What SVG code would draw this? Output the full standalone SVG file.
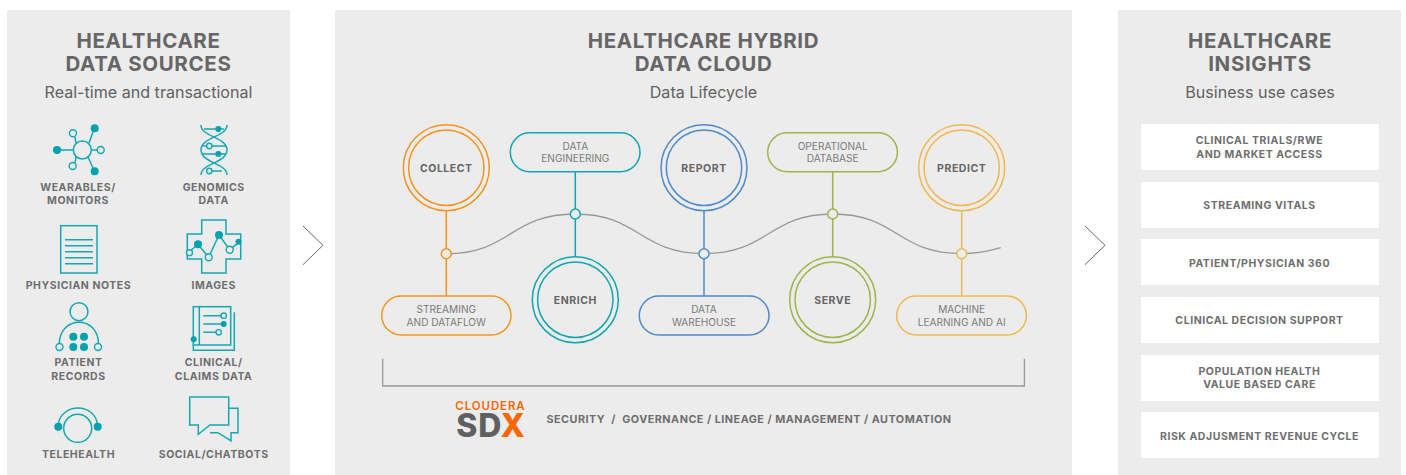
<svg xmlns="http://www.w3.org/2000/svg" width="1406" height="475" viewBox="0 0 1406 475">
<style>
text{font-family:Inter,"Liberation Sans",sans-serif;text-anchor:middle}
.panel{fill:#ececec}
.title{font-size:20.5px;font-weight:700;fill:#666;letter-spacing:.65px}
.sub{font-size:16.1px;fill:#616161}
.lab{font-size:10.5px;font-weight:700;fill:#6e6e6e;letter-spacing:.55px}
.cir{font-size:10.5px;font-weight:700;fill:#666;letter-spacing:.55px}
.pl{font-size:10.1px;fill:#7b7b7b}
.i{fill:none;stroke:#14a8b2;stroke-width:1.5}
.o{fill:#ececec;stroke:#14a8b2;stroke-width:1.4}
.f{fill:#00a3ad}
.box{fill:#fff}
.chev{fill:none;stroke:#666;stroke-width:1}
.n{fill:#ececec;stroke-width:1.5}
.wave{fill:none;stroke:#999;stroke-width:1.3}
.c1{stroke:#f7941d;fill:none;stroke-width:1.5}.c2{stroke:#0ea6b0;fill:none;stroke-width:1.5}.c3{stroke:#4f8ac9;fill:none;stroke-width:1.5}.c4{stroke:#9db44a;fill:none;stroke-width:1.5}.c5{stroke:#f2b84f;fill:none;stroke-width:1.5}
</style>
<rect class="panel" x="7" y="10" width="283" height="465"/>
<rect class="panel" x="335" y="10" width="737" height="465"/>
<rect class="panel" x="1118" y="10" width="283" height="465"/>
<g id="headers">
<text class="title" x="148.500" y="48">HEALTHCARE</text><text class="title" x="148.500" y="71">DATA SOURCES</text><text class="sub" x="148.500" y="98">Real-time and transactional</text>
<text class="title" x="703.500" y="48">HEALTHCARE HYBRID</text><text class="title" x="703.500" y="71">DATA CLOUD</text><text class="sub" x="703.500" y="98">Data Lifecycle</text>
<text class="title" x="1260" y="48">HEALTHCARE</text><text class="title" x="1260" y="71">INSIGHTS</text><text class="sub" x="1260" y="98">Business use cases</text>
</g>
<g id="wearables">
<path class="i" d="M61 150H73M91.500 150H97M89 143L93 132M76 143L75 137M76 157L75 163M88 157L93 168"/>
<circle class="i" cx="82.300" cy="150" r="9"/>
<circle class="f" cx="94.700" cy="128.300" r="4"/><circle class="o" cx="73" cy="133.300" r="3.500"/><circle class="f" cx="57" cy="150" r="4"/><circle class="o" cx="100.700" cy="150" r="3.500"/><circle class="o" cx="72.700" cy="166" r="3.500"/><circle class="f" cx="94.700" cy="171.300" r="4"/>
<text class="lab" x="78" y="191">WEARABLES/</text><text class="lab" x="78" y="204">MONITORS</text>
</g>
<g id="genomics">
<path class="i" d="M201 125C201 137 227 137 227 150C227 163 201 163 201 175M227 125C227 137 201 137 201 150C201 163 227 163 227 175"/>
<path class="i" d="M204 129H224M203 146H226M202 154H226M207 171H222"/>
<circle class="f" cx="218.300" cy="129" r="3"/><circle class="o" cx="209.300" cy="146" r="2.700"/><circle class="f" cx="218.300" cy="154" r="3"/><circle class="o" cx="209.300" cy="171" r="2.700"/>
<text class="lab" x="213.700" y="191">GENOMICS</text><text class="lab" x="213.700" y="204">DATA</text>
</g>
<g id="notes">
<rect class="i" x="60.700" y="225.700" width="36.300" height="47.300"/>
<path class="i" d="M65 239.700H93M65 245.700H93M65 251.700H93M65 257.700H93M65 263.700H93"/>
<text class="lab" x="78.500" y="289">PHYSICIAN NOTES</text>
</g>
<g id="images">
<path class="i" d="M201.700 220H226V234H240.700V259H226V273H201.700V259H187.300V234H201.700Z"/>
<path class="i" d="M188 252.700L198 244.300L208.700 257.300L219 235L229.700 249.700L240 241.700"/>
<circle class="o" cx="189.500" cy="252.700" r="3"/><circle class="f" cx="198" cy="244.300" r="4"/><circle class="o" cx="208.700" cy="257.300" r="3.500"/><circle class="f" cx="219" cy="235" r="4"/><circle class="o" cx="229.700" cy="249.700" r="3.500"/><circle class="f" cx="238.500" cy="241.700" r="3"/>
<text class="lab" x="213.700" y="289">IMAGES</text>
</g>
<g id="patient">
<circle class="i" cx="79" cy="311.700" r="9"/>
<path class="i" d="M59.300 343.500C60 315 98 315 98.500 343.500"/>
<circle class="o" cx="59.500" cy="347" r="3.500"/><circle class="o" cx="98" cy="347" r="3.500"/>
<circle class="f" cx="73.300" cy="336.700" r="4"/><circle class="f" cx="84" cy="336.700" r="4"/><circle class="f" cx="73.300" cy="347" r="4"/><circle class="f" cx="84" cy="347" r="4"/>
<text class="lab" x="78.500" y="366">PATIENT</text><text class="lab" x="78.500" y="380">RECORDS</text>
</g>
<g id="clinical">
<rect class="i" x="193.300" y="306.700" width="37.400" height="38.300"/>
<path class="i" d="M199.300 306.700V345M234.300 312.300V350.300H193.300V345M203.300 315.700H221M203.300 324H221M203.300 332.300H216"/>
<circle class="f" cx="193.700" cy="339.300" r="3"/>
<circle class="o" cx="223.700" cy="315.700" r="2.700"/><circle class="f" cx="223.700" cy="324" r="3"/><circle class="o" cx="218.700" cy="332.300" r="2.700"/>
<text class="lab" x="213.700" y="366">CLINICAL/</text><text class="lab" x="213.700" y="380">CLAIMS DATA</text>
</g>
<g id="telehealth">
<circle class="i" cx="77.700" cy="428.300" r="14"/>
<path class="i" d="M58 426C60 402 96 402 97.700 426"/>
<circle class="f" cx="58.300" cy="426.700" r="4"/><circle class="f" cx="97.700" cy="426.700" r="4"/>
<text class="lab" x="78.500" y="458">TELEHEALTH</text>
</g>
<g id="social">
<path class="i" d="M189.700 397H228.700V425H210L198.300 434.300V425H189.700Z"/>
<path class="i" d="M228.700 408.300H238V432.700H231V441L218 432.700H210"/>
<text class="lab" x="213.700" y="458">SOCIAL/CHATBOTS</text>
</g>
<g id="arrow-1"><path class="chev" d="M303 226L323 245.300L303 264.700"/></g>
<g id="arrow-2"><path class="chev" d="M1085 226L1105 245.300L1085 264.700"/></g>
<g id="connectors">
<path class="c1" d="M446.300 210.700V296"/><path class="c2" d="M575.300 171.700V256.700"/><path class="c3" d="M704 210.700V296"/><path class="c4" d="M832.700 171.700V256.700"/><path class="c5" d="M961.700 210.700V296"/>
<path class="wave" d="M446.300 253.700C510 253.700 511 214 575.300 214C639 214 640 253.700 704 253.700C768 253.700 769 214 832.700 214C897 214 897 253.700 961.700 253.700C975 253.700 988 251.500 1000.700 247.700"/>
<path fill="none" stroke="#999" stroke-width="1.300" d="M382.700 358.700V386H1024.400V358.700"/>
</g>
<g id="collect"><circle class="c1" cx="446.300" cy="167.700" r="43"/><circle class="c1" cx="446.300" cy="167.700" r="37.700"/><text class="cir" x="446.300" y="172">COLLECT</text></g>
<g id="enrich"><circle class="c2" cx="575.300" cy="299.700" r="43"/><circle class="c2" cx="575.300" cy="299.700" r="37.700"/><text class="cir" x="575.300" y="304">ENRICH</text></g>
<g id="report"><circle class="c3" cx="704" cy="167.700" r="43"/><circle class="c3" cx="704" cy="167.700" r="37.700"/><text class="cir" x="704" y="172">REPORT</text></g>
<g id="serve"><circle class="c4" cx="832.700" cy="299.700" r="43"/><circle class="c4" cx="832.700" cy="299.700" r="37.700"/><text class="cir" x="832.700" y="304">SERVE</text></g>
<g id="predict"><circle class="c5" cx="961.700" cy="167.700" r="43"/><circle class="c5" cx="961.700" cy="167.700" r="37.700"/><text class="cir" x="961.700" y="172">PREDICT</text></g>
<g id="junctions">
<circle class="n" stroke="#f7941d" cx="446.300" cy="253.700" r="5"/><circle class="n" stroke="#0ea6b0" cx="575.300" cy="214" r="5"/><circle class="n" stroke="#4f8ac9" cx="704" cy="253.700" r="5"/><circle class="n" stroke="#9db44a" cx="832.700" cy="214" r="5"/><circle class="n" stroke="#f2b84f" cx="961.700" cy="253.700" r="5"/>
</g>
<g id="streaming"><rect class="c1" x="381.700" y="296" width="129.300" height="39" rx="19.500"/><text class="pl" x="446.300" y="313">STREAMING</text><text class="pl" x="446.300" y="326">AND DATAFLOW</text></g>
<g id="data-engineering"><rect class="c2" x="510.300" y="132.700" width="129.700" height="39" rx="19.500"/><text class="pl" x="575.300" y="150">DATA</text><text class="pl" x="575.300" y="162">ENGINEERING</text></g>
<g id="data-warehouse"><rect class="c3" x="639.300" y="296" width="129.700" height="39" rx="19.500"/><text class="pl" x="704" y="313">DATA</text><text class="pl" x="704" y="326">WAREHOUSE</text></g>
<g id="operational-database"><rect class="c4" x="767.700" y="132.700" width="129.700" height="39" rx="19.500"/><text class="pl" x="832.700" y="150">OPERATIONAL</text><text class="pl" x="832.700" y="162">DATABASE</text></g>
<g id="machine-learning"><rect class="c5" x="896.700" y="296" width="129.700" height="39" rx="19.500"/><text class="pl" x="961.700" y="313">MACHINE</text><text class="pl" x="961.700" y="326">LEARNING AND AI</text></g>
<g id="sdx">
<text x="490.500" y="409.500" font-size="11.500" font-weight="600" fill="#f96702" letter-spacing=".9">CLOUDERA</text>
<text x="491" y="437" font-size="32" font-weight="800" fill="#5f6062" letter-spacing="1">SD<tspan fill="#f96702">X</tspan></text>
<text x="749" y="423" font-size="10.800" font-weight="700" fill="#6e6e6e" letter-spacing=".5" xml:space="preserve">SECURITY  /  GOVERNANCE / LINEAGE / MANAGEMENT / AUTOMATION</text>
</g>
<g id="insights">
<rect class="box" x="1141" y="124" width="238" height="46"/><text class="lab" x="1259.500" y="144">CLINICAL TRIALS/RWE</text><text class="lab" x="1259.500" y="158">AND MARKET ACCESS</text>
<rect class="box" x="1141" y="182" width="238" height="46"/><text class="lab" x="1259.500" y="209">STREAMING VITALS</text>
<rect class="box" x="1141" y="239" width="238" height="46"/><text class="lab" x="1259.500" y="267">PATIENT/PHYSICIAN 360</text>
<rect class="box" x="1141" y="297" width="238" height="46"/><text class="lab" x="1259.500" y="324">CLINICAL DECISION SUPPORT</text>
<rect class="box" x="1141" y="355" width="238" height="46"/><text class="lab" x="1259.500" y="375">POPULATION HEALTH</text><text class="lab" x="1259.500" y="388">VALUE BASED CARE</text>
<rect class="box" x="1141" y="412" width="238" height="46"/><text class="lab" x="1259.500" y="440">RISK ADJUSMENT REVENUE CYCLE</text>
</g>
</svg>
